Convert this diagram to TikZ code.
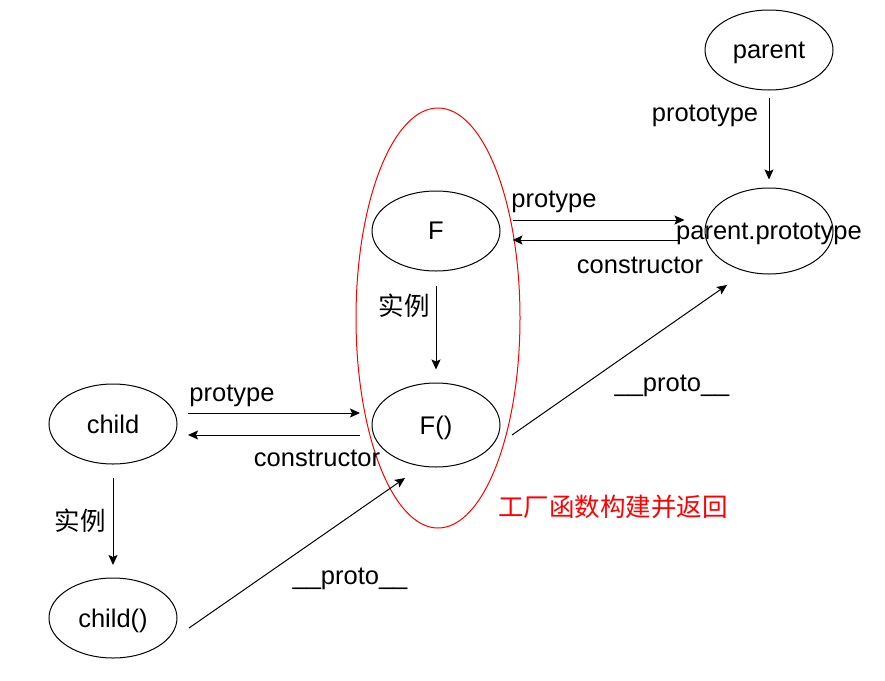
\documentclass[tikz,border=0pt]{standalone}
\usepackage{fontspec}
\setmainfont{Liberation Sans}
\newfontfamily\cjk{Noto Sans CJK SC}
\usetikzlibrary{shapes.geometric,arrows.meta,calc}
\begin{document}
\begin{tikzpicture}[x=1pt,y=-1pt,
  every node/.style={font=\fontsize{25.5}{30}\selectfont},
  ell/.style={draw,ellipse,line width=1pt,inner sep=0pt,minimum width=128pt,minimum height=80pt,text depth=0pt},
  arr/.style={-{Stealth[length=10pt,width=9pt,inset=2pt]},line width=1pt},
  lbl/.style={inner sep=0pt,text depth=0pt},
  cjklbl/.style={inner sep=0pt,font=\fontsize{25.5}{30}\selectfont\cjk}]
\useasboundingbox (0,0) rectangle (885,680);
% group ellipse
\node[draw=red,ellipse,line width=1pt,inner sep=0pt,minimum width=164pt,minimum height=420pt] (grp) at (438,318) {};
% nodes
\node[ell] (parent) at (769,50) {parent};
\node[ell,minimum height=86pt] (pp) at (769,231) {};
\node[lbl] (pptext) at (pp) {parent.prototype};
\node[ell] (F) at (436,231) {F};
\node[ell,minimum height=84pt] (Fc) at (436,425) {F()};
\node[ell] (child) at (113,424) {child};
\node[ell] (childc) at (113,618) {child()};
% connectors
\draw[arr,shorten <=7pt,shorten >=8pt] (parent.south) -- (pp.north);
\draw[arr,shorten <=12pt,shorten >=20pt] ([yshift=11pt]F.east) -- ([yshift=11pt]pp.west);
\draw[arr,shorten <=25pt,shorten >=12pt] ([yshift=-9pt]pp.west) -- ([yshift=-9pt]F.east);
\draw[arr,shorten <=14pt,shorten >=13pt] (F.south) -- (Fc.north);
\draw[arr] ($(Fc)+(76,10)$) -- ($(pp)+(-42,54)$);
\draw[arr] ($(child)+(75,-11)$) -- ($(Fc)+(-76,-12)$);
\draw[arr] ($(Fc)+(-76,10)$) -- ($(child)+(75,11)$);
\draw[arr] ($(child)+(0,54)$) -- ($(childc)+(0,-53)$);
\draw[arr] ($(childc)+(76,10)$) -- ($(Fc)+(-31,53)$);
% labels
\node[lbl] (l1) at (705,113) {prototype};
\node[lbl] (l2) at (554,199) {protype};
\node[lbl] (l3) at (640,265) {constructor};
\node[cjklbl] (l4) at (404,306) {实例};
\node[lbl] (l5) at (672,383) {\_\_proto\_\_};
\node[lbl] (l6) at (232,393) {protype};
\node[lbl] (l7) at (317,458) {constructor};
\node[cjklbl] (l8) at (80,521) {实例};
\node[lbl] (l9) at (350,576) {\_\_proto\_\_};
\node[cjklbl,text=red] (l10) at (613,507) {工厂函数构建并返回};
\end{tikzpicture}
\end{document}
